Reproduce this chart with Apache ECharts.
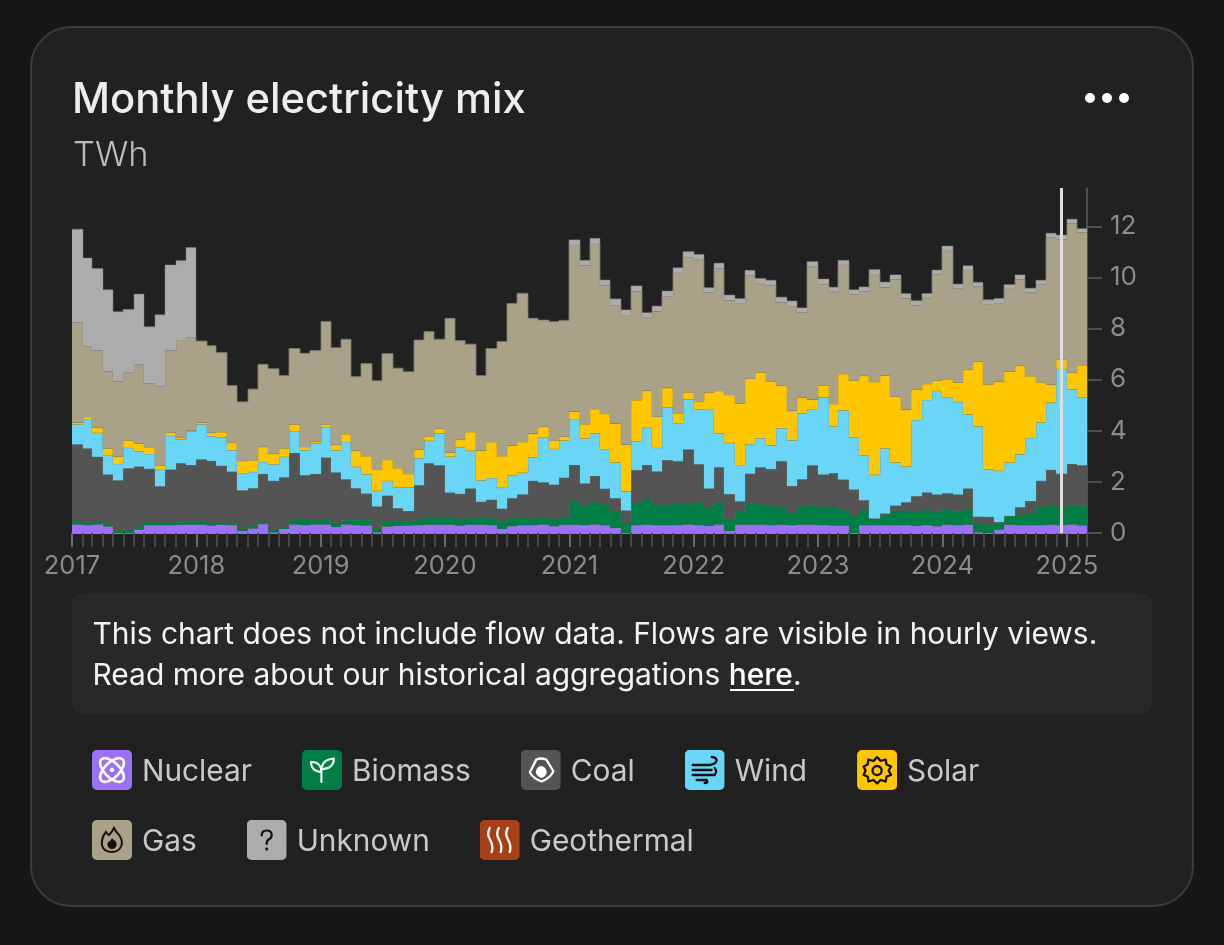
<!DOCTYPE html>
<html>
<head>
<meta charset="utf-8">
<title>Monthly electricity mix</title>
<style>html,body{margin:0;padding:0;background:#161616}#chart{width:1224px;height:945px}</style>
<script src="https://cdn.jsdelivr.net/npm/echarts@6/dist/echarts.min.js"></script>
</head>
<body>
<div id="chart"></div>
<script>
// Monthly generation in TWh, January 2017 to February 2025.
const nuclear = [.34,.31,.34,.26,0,0,.14,.31,.31,.31,.33,.33,
  .33,.30,.33,.31,.08,.18,.35,.03,.16,.34,.31,.34,
  .34,.24,.34,.31,.30,.03,.26,.29,.30,.31,.33,.33,
  .33,.30,.33,.33,.31,.16,.27,.31,.31,.34,.27,.33,
  .33,.31,.34,.31,.20,0,.31,.33,.31,.31,.31,.34,
  .31,.29,.34,.08,.33,.33,.33,.31,.33,.31,.33,.33,
  .31,.30,.30,0,.31,.31,.31,.31,.31,.29,.31,.27,
  .33,.31,.33,.03,0,.14,.33,.31,.31,.31,.33,.31,
  .34,.30];
const biomass = [.14,.10,.10,.10,.10,.10,.13,.13,.10,.10,.10,.12,
  .12,.10,.09,.09,.10,.13,.09,.10,.10,.18,.21,.18,
  .18,.17,.17,.20,.21,.16,.22,.20,.17,.21,.27,.29,
  .30,.25,.25,.29,.27,.27,.31,.31,.27,.29,.26,.29,
  .94,.77,.88,.82,.69,.41,.86,1.01,.81,.78,.88,.80,
  .90,.69,.86,.47,.50,.85,.80,.78,.69,.50,.72,.75,
  .73,.73,.60,.68,.60,.26,.38,.54,.58,.56,.60,.59,
  .59,.55,.61,.34,.34,.26,.34,.41,.44,.71,.78,.68,
  .77,.76];
const coal = [2.99,2.90,2.54,1.93,1.96,2.43,2.33,2.07,1.42,2.07,2.30,2.21,
  2.43,2.42,2.21,2.00,1.49,1.44,1.87,1.91,1.92,2.61,1.74,1.79,
  2.43,1.96,1.59,1.24,1.03,.85,.98,.48,.39,1.35,2.13,2.03,
  .95,.98,1.16,.60,.72,.52,.78,.89,1.46,1.35,1.36,1.54,
  1.39,.86,1.01,.60,.47,.47,1.29,1.32,1.29,1.76,1.62,2.13,
  1.48,.76,1.37,.97,.41,1.14,1.44,1.41,1.79,1.03,1.05,1.57,
  1.25,1.31,1.19,1.02,.37,0,.07,.22,.31,.59,.67,.65,
  .64,.65,.80,.27,.29,.03,0,.29,.50,1.02,1.36,1.33,
  1.59,1.59];
const wind = [.78,1.15,.94,.76,.64,.80,.60,.58,.64,1.32,.93,1.31,
  1.37,.97,1.11,.84,.65,.64,.47,.65,.80,.86,.98,1.19,
  1.20,.86,1.46,.84,.76,.61,.58,.81,.93,1.06,.88,1.25,
  1.41,1.83,1.48,.84,.85,.82,.90,.85,.92,1.75,1.40,1.46,
  1.80,1.76,1.67,1.53,1.40,.75,1.12,1.46,.92,2.07,1.49,1.95,
  2.14,3.08,1.33,2.01,1.42,1.16,1.14,.93,1.29,1.79,2.59,2.20,
  3.02,1.83,2.71,2.05,1.75,1.71,2.55,1.69,1.40,2.98,3.62,4.05,
  3.74,3.62,2.90,3.53,1.87,2.01,2.09,2.07,2.47,2.29,2.63,4.10,
  2.92,2.65];
const solar = [.07,.08,.20,.26,.30,.30,.31,.27,.18,.14,.07,.04,
  .07,.13,.21,.31,.50,.46,.59,.41,.34,.26,.13,.07,
  .10,.22,.31,.63,.71,.82,.82,.76,.52,.33,.18,.18,
  .16,.29,.73,1.16,1.41,1.24,1.16,1.20,.92,.43,.34,.16,
  .29,.56,.95,1.40,1.52,1.83,1.62,1.45,1.22,.76,.39,.29,
  .30,.68,1.66,1.87,2.41,2.56,2.58,2.51,1.66,1.15,.61,.37,
  .47,.88,1.42,2.22,3.12,3.63,2.86,2.58,2.22,1.20,.63,.41,
  .72,.76,1.75,2.54,3.32,3.48,3.56,3.46,2.42,1.57,.71,.38,
  .65,1.27];
const gas = [3.92,2.77,3.03,3.01,2.93,2.64,3.08,2.50,3.08,3.20,3.82,3.66,
  3.19,3.41,3.11,2.22,2.31,2.78,3.23,3.33,2.84,2.97,3.66,3.57,
  4.03,3.80,3.71,2.90,3.62,3.49,4.16,3.91,4.00,4.29,4.09,3.50,
  5.25,3.88,3.44,2.94,3.66,4.48,5.56,5.82,4.52,4.17,4.64,4.54,
  6.52,6.21,6.46,5.03,4.64,5.07,4.26,2.85,4.13,3.58,5.49,5.29,
  5.56,3.92,4.80,3.71,3.90,4.03,3.46,3.75,3.27,4.10,3.33,5.20,
  3.95,4.39,4.27,3.37,3.31,4.22,3.45,4.59,4.37,3.29,3.37,4.14,
  5.05,3.67,3.90,2.94,3.14,3.08,3.23,3.39,3.27,3.82,5.75,4.69,
  5.84,5.20];
const unknown = [3.65,3.45,3.20,3.20,2.73,2.48,2.76,2.21,2.81,3.35,3.11,3.50,
  0,0,0,0,0,0,0,0,0,0,0,0,
  0,0,0,0,0,0,0,0,0,0,0,0,
  0,0,0,0,0,0,0,0,0,0,0,0,
  .20,.20,.22,.21,.24,.20,.21,.20,.20,.21,.20,.21,
  .21,.18,.20,.20,.20,.21,.21,.20,.20,.20,.18,.20,
  .21,.18,.18,.18,.17,.18,.20,.17,.18,.18,.17,.18,
  .16,.18,.17,.16,.17,.18,.17,.17,.17,.17,.17,.17,
  .17,.14];
const geothermal = [];

const firstYear = 2017;
const monthCount = 98;
const valueTicks = [0,2,4,6,8,10,12];

const monthStart = i => new Date(firstYear, i, 1).getTime();
// One extra boundary: the end of February 2025 closes the last month.
const monthTicks = Array.from({length: monthCount + 1}, (_, i) => monthStart(i));
const yearTicks = monthTicks.filter((_, i) => i % 12 === 0);
// Hover cursor, resting in the middle of December 2024.
const cursorTime = new Date(2024, 11, 16, 12).getTime();

const FONT = 'Inter, "Noto Sans", sans-serif';
const STROKE = 'rgba(125,125,115,0.7)';

// Small glyph tiles for the legend, one per source.
function tile(bg, body) {
  const svg = '<svg xmlns="http://www.w3.org/2000/svg" width="80" height="80" viewBox="0 0 40 40">' +
    '<rect width="40" height="40" rx="5" fill="' + bg + '"/>' + body + '</svg>';
  return 'image://data:image/svg+xml;charset=utf-8,' + encodeURIComponent(svg);
}
const icons = {
  Nuclear: tile('#9D71F7',
    '<g fill="none" stroke="#fff" stroke-width="2.6"><ellipse cx="20" cy="20" rx="15" ry="7.5" transform="rotate(45 20 20)"/>' +
    '<ellipse cx="20" cy="20" rx="15" ry="7.5" transform="rotate(-45 20 20)"/></g><circle cx="20" cy="20" r="2.2" fill="#fff"/>'),
  Biomass: tile('#007E45',
    '<g fill="none" stroke="#fff" stroke-width="2" stroke-linejoin="round" stroke-linecap="round"><path d="M19.5 32V21"/>' +
    '<path d="M19.5 22C13 22 9 18 9 12C15 11.5 19.5 15 19.5 22Z"/><path d="M20 17C21 11 25.5 9 32 8.5C32 14.5 28 19 21 19"/></g>'),
  Coal: tile('#545454',
    '<path d="M9 22.5L15.5 9.5Q20 7.5 25.5 9.5L32.5 21Q31 27 21 31.5Q13 29 9 22.5Z" fill="none" stroke="#fff" stroke-width="2.3" stroke-linejoin="round"/>' +
    '<path d="M15 23Q15 17 20 16Q26 17 26 23Q24 27.5 20.5 28Q17 27 15 23Z" fill="#fff"/>'),
  Wind: tile('#69D6F8',
    '<g fill="none" stroke="#111" stroke-width="2.3" stroke-linecap="round"><path d="M8 15H25Q32 14 32 10Q31 7 27 7"/>' +
    '<path d="M8 20H27"/><path d="M8 25H30Q33 21 30 18"/><path d="M12 30H22Q24 33 20 33"/></g>'),
  Solar: tile('#FFC700',
    '<path d="M20 7L23.5 11L28.5 9.5L29.5 14.5L34 16.5L31.5 20.5L34 25L29.5 26.5L28.5 31.5L23.5 30L20 33.5L16.5 30L11.5 31.5L10.5 26.5L6.5 25L8.5 20.5L6.5 16.5L10.5 14.5L11.5 9.5L16.5 11Z" fill="none" stroke="#111" stroke-width="2.3" stroke-linejoin="round"/>' +
    '<circle cx="20" cy="20.5" r="4.5" fill="none" stroke="#111" stroke-width="2.3"/>'),
  Gas: tile('#AAA189',
    '<path d="M14 12Q16 15 17 15Q20 12 22 8Q24 12 27 15Q31 20 29.5 25.5Q27 32 20 32Q12 32 10 25.5Q9 18 14 12Z" fill="none" stroke="#111" stroke-width="2"/>' +
    '<path d="M20 18Q22 21 23.5 21Q26 25 23 28Q20 30 17 28Q14 25 16.5 21.5Q18 22 20 18Z" fill="#111"/>'),
  Unknown: tile('#ACACAC',
    '<path d="M15 15.5Q15 10.5 20 10.5Q25 10.5 25 15Q25 18 22 19.5Q20 20.5 20 24" fill="none" stroke="#111" stroke-width="2.2" stroke-linecap="round"/>' +
    '<circle cx="20" cy="29" r="1.5" fill="#111"/>'),
  Geothermal: tile('#A73F17',
    '<g fill="none" stroke="#fff" stroke-width="2.3" stroke-linecap="round"><path d="M10 8Q7 14 10 19Q14 26 12 32"/>' +
    '<path d="M19 8Q16 14 19 19Q23 26 21 32"/><path d="M28 8Q25 14 28 19Q32 26 30 32"/></g>')
};

const sources = [
  ['Nuclear', nuclear, '#9D71F7'],
  ['Biomass', biomass, '#007E45'],
  ['Coal', coal, '#545454'],
  ['Wind', wind, '#69D6F8'],
  ['Solar', solar, '#FFC700'],
  ['Gas', gas, '#AAA189'],
  ['Unknown', unknown, '#ACACAC'],
  ['Geothermal', geothermal, '#A73F17']
];

// Stacks the sources month by month. A row is [month start, month end, lower
// level, upper level, upper level of the month before].
const stackTop = new Array(monthCount).fill(0);
const rows = sources.map(([, values]) => {
  const result = values.map((v, i) => [monthTicks[i], monthTicks[i + 1], stackTop[i], stackTop[i] + v, 0]);
  result.forEach((row, i) => {
    row[4] = i ? result[i - 1][3] : row[3];
    stackTop[i] = row[3];
  });
  return result;
});

// One filled block per month, plus the hairline along its top and the step
// up or down from the previous month.
const renderMonth = color => (params, api) => {
  const start = api.coord([api.value(0), api.value(3)]);
  const end = api.coord([api.value(1), api.value(2)]);
  const prev = api.coord([api.value(0), api.value(4)]);
  const x0 = Math.round(start[0]);
  const x1 = Math.round(end[0]);
  return {
    type: 'group',
    children: [
      {type: 'rect', shape: {x: x0, y: start[1], width: x1 - x0, height: end[1] - start[1]},
        style: {fill: color}},
      {type: 'polyline', shape: {points: [[x0, prev[1]], [x0, start[1]], [x1, start[1]]]},
        style: {fill: null, stroke: STROKE, lineWidth: 0.7}}
    ]
  };
};

const series = sources.map(([name, , color], k) => ({
  name,
  type: 'custom',
  xAxisIndex: 0,
  yAxisIndex: 0,
  color,
  clip: false,
  encode: {x: [0, 1], y: [2, 3]},
  renderItem: renderMonth(color),
  data: rows[k],
  markLine: k === 0 ? {
    silent: true,
    symbol: 'none',
    label: {show: false},
    lineStyle: {color: '#DEDEDE', width: 3, type: 'solid'},
    data: [{xAxis: cursorTime}]
  } : undefined
}));

function legendRow(names, top) {
  return {
    left: 92, top, padding: 0,
    itemWidth: 40, itemHeight: 40, itemGap: 50,
    selectedMode: false,
    orient: 'horizontal',
    formatter: '{t|{name}}',
    textStyle: {
      rich: {t: {color: '#C9C9C9', fontFamily: FONT, fontSize: 29.8, padding: [5, 0, 0, 5]}}
    },
    data: names.map(name => ({name, icon: icons[name]}))
  };
}

// The series sit on a bare time axis; two value axes over the same span draw
// the month ticks, the brighter year ticks and the year labels.
const span = {min: monthTicks[0], max: monthTicks[monthCount], position: 'bottom', splitLine: {show: false}};

const chart = echarts.init(document.getElementById('chart'), null, {renderer: 'canvas'});
chart.setOption({
  animation: false,
  backgroundColor: '#161616',
  title: [
    {text: 'Monthly electricity mix', left: 72, top: 79, padding: 0,
      textStyle: {color: '#EDEDED', fontFamily: FONT, fontSize: 41.7, fontWeight: 500}},
    {text: 'TWh', left: 73, top: 138, padding: 0,
      textStyle: {color: '#BDBDBD', fontFamily: FONT, fontSize: 34.5, fontWeight: 300}}
  ],
  legend: [
    legendRow(['Nuclear', 'Biomass', 'Coal', 'Wind', 'Solar'], 750),
    legendRow(['Gas', 'Unknown', 'Geothermal'], 820)
  ],
  grid: {left: 72, right: 137, top: 188, height: 345, containLabel: false},
  xAxis: [
    Object.assign({}, span, {
      type: 'time',
      axisLine: {show: false},
      axisTick: {show: false},
      axisLabel: {show: false}
    }),
    Object.assign({}, span, {
      type: 'value',
      axisLine: {show: true, onZero: false, lineStyle: {color: '#8A8A8A', width: 1}},
      axisTick: {show: true, length: 14, customValues: monthTicks, lineStyle: {color: '#474747', width: 2}},
      axisLabel: {
        customValues: yearTicks, margin: 20, color: '#8C8C8C', fontFamily: FONT, fontSize: 25.5,
        formatter: v => String(new Date(v).getFullYear())
      }
    }),
    Object.assign({}, span, {
      type: 'value',
      axisLine: {show: false},
      axisLabel: {show: false},
      axisTick: {show: true, length: 14, customValues: yearTicks, lineStyle: {color: '#6A6A6A', width: 2}}
    })
  ],
  yAxis: {
    type: 'value', min: 0, max: 13.5, position: 'right',
    splitLine: {show: false},
    axisLine: {show: true, lineStyle: {color: '#5E5E5E', width: 1.5}},
    axisTick: {show: true, length: 15, customValues: valueTicks, lineStyle: {color: '#5E5E5E', width: 1.5}},
    axisLabel: {customValues: valueTicks, margin: 23, color: '#8C8C8C', fontFamily: FONT, fontSize: 26}
  },
  series,
  graphic: [
    {type: 'rect', z: -10, shape: {x: 31, y: 27, width: 1162, height: 879, r: 40},
      style: {fill: '#212121', stroke: '#3B3B3B', lineWidth: 2}},
    {type: 'rect', z: -9, shape: {x: 72, y: 593, width: 1080, height: 121, r: 10},
      style: {fill: '#282828'}},
    {type: 'circle', z: -8, shape: {cx: 1090, cy: 98, r: 5}, style: {fill: '#FFFFFF'}},
    {type: 'circle', z: -8, shape: {cx: 1107, cy: 98, r: 5}, style: {fill: '#FFFFFF'}},
    {type: 'circle', z: -8, shape: {cx: 1124, cy: 98, r: 5}, style: {fill: '#FFFFFF'}},
    {type: 'text', z: -8, x: 92.5, y: 620, style: {
      text: 'This chart does not include flow data. Flows are visible in hourly views.',
      fill: '#F4F4F4', font: '400 29.95px ' + FONT}},
    {type: 'text', z: -8, x: 92.5, y: 661, style: {
      text: 'Read more about our historical aggregations {b|here}.',
      fill: '#F4F4F4', font: '400 29.95px ' + FONT,
      rich: {b: {fill: '#FFFFFF', font: '500 29.95px ' + FONT}}}},
    {type: 'rect', z: -8, shape: {x: 730, y: 689, width: 64, height: 2}, style: {fill: '#FFFFFF'}}
  ]
});
</script>
</body>
</html>
